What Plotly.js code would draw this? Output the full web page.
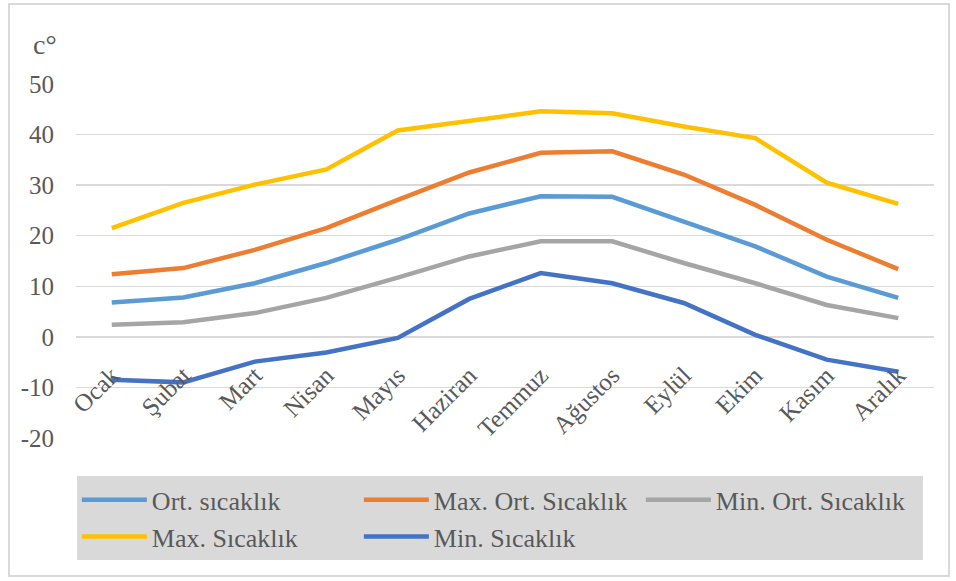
<!DOCTYPE html>
<html>
<head>
<meta charset="utf-8">
<script src="https://cdn.plot.ly/plotly-3.0.1.min.js"></script>
<style>
html,body{margin:0;padding:0;background:#fff;}
#wrap{position:relative;width:956px;height:581px;}
#chart{position:absolute;left:0;top:0;width:956px;height:581px;}
#frame{position:absolute;left:8px;top:3px;width:938px;height:570px;border:2px solid #d9d9d9;pointer-events:none;}
</style>
</head>
<body>
<div id="wrap"><div id="chart"></div><div id="frame"></div></div>
<script>
const months = ['Ocak','Şubat','Mart','Nisan','Mayıs','Haziran','Temmuz','Ağustos','Eylül','Ekim','Kasım','Aralık'];
const ortSicaklik    = [6.8, 7.8, 10.6, 14.6, 19.2, 24.4, 27.8, 27.7, 22.8, 17.9, 11.9, 7.7];
const maxOrtSicaklik = [12.4, 13.6, 17.2, 21.5, 27.1, 32.5, 36.4, 36.7, 32.1, 26.1, 19.2, 13.4];
const minOrtSicaklik = [2.4, 2.9, 4.7, 7.7, 11.7, 15.9, 18.9, 18.9, 14.6, 10.6, 6.3, 3.7];
const maxSicaklik    = [21.5, 26.5, 30.1, 33.1, 40.8, 42.8, 44.6, 44.2, 41.6, 39.3, 30.5, 26.3];
const minSicaklik    = [-8.5, -9.0, -4.9, -3.1, -0.2, 7.5, 12.6, 10.6, 6.7, 0.4, -4.5, -6.9];
const seriesNames = ['Ort. sıcaklık','Max. Ort. Sıcaklık','Min. Ort. Sıcaklık','Max. Sıcaklık','Min. Sıcaklık'];
const seriesData = [ortSicaklik, maxOrtSicaklik, minOrtSicaklik, maxSicaklik, minSicaklik];
const colors = ['#5B9BD5','#ED7D31','#A5A5A5','#FFC000','#4472C4'];
const yTicks = [-20,-10,0,10,20,30,40,50];

const FONT = 'Liberation Serif, Times New Roman, serif';
const traces = seriesData.map((d,i)=>({
  type:'scatter', mode:'lines', x: months, y: d, name: seriesNames[i],
  line:{color:colors[i], width:4.5}
}));

const yMin = -20, yMax = 50;
const layout = {
  width:956, height:581,
  margin:{l:76, r:22, t:84, b:143},
  paper_bgcolor:'rgba(0,0,0,0)', plot_bgcolor:'rgba(0,0,0,0)',
  showlegend:true,
  font:{family:FONT, color:'#595959', size:25},
  xaxis:{
    type:'category', range:[-0.5,11.5], showgrid:false, zeroline:false, showline:false,
    anchor:'free', position:(0-yMin)/(yMax-yMin),
    tickangle:-45, ticks:'', ticklabelstandoff:18,
    tickfont:{family:FONT, size:25, color:'#595959'},
    fixedrange:true
  },
  yaxis:{
    range:[yMin,yMax], tickvals:yTicks, ticktext:yTicks.map(String),
    showgrid:true, gridcolor:'#d9d9d9', gridwidth:1.5, zeroline:false, showline:false,
    ticks:'', ticklabelstandoff:21, tickfont:{family:FONT, size:25, color:'#595959'},
    fixedrange:true
  },
  legend:{
    orientation:'h', x:0.001, xanchor:'left', y:-0.108, yanchor:'top',
    bgcolor:'#d9d9d9', entrywidth:202, entrywidthmode:'pixels',
    font:{family:FONT, size:26, color:'#595959'}, itemwidth:65,
    traceorder:'normal'
  },
  annotations:[{
    xref:'paper', yref:'paper', x:-0.053, y:1.062, xanchor:'left', yanchor:'bottom',
    text:'c°', showarrow:false, font:{family:FONT, size:28, color:'#595959'}
  }]
};
Plotly.newPlot('chart', traces, layout, {displayModeBar:false, staticPlot:true});
</script>
</body>
</html>
